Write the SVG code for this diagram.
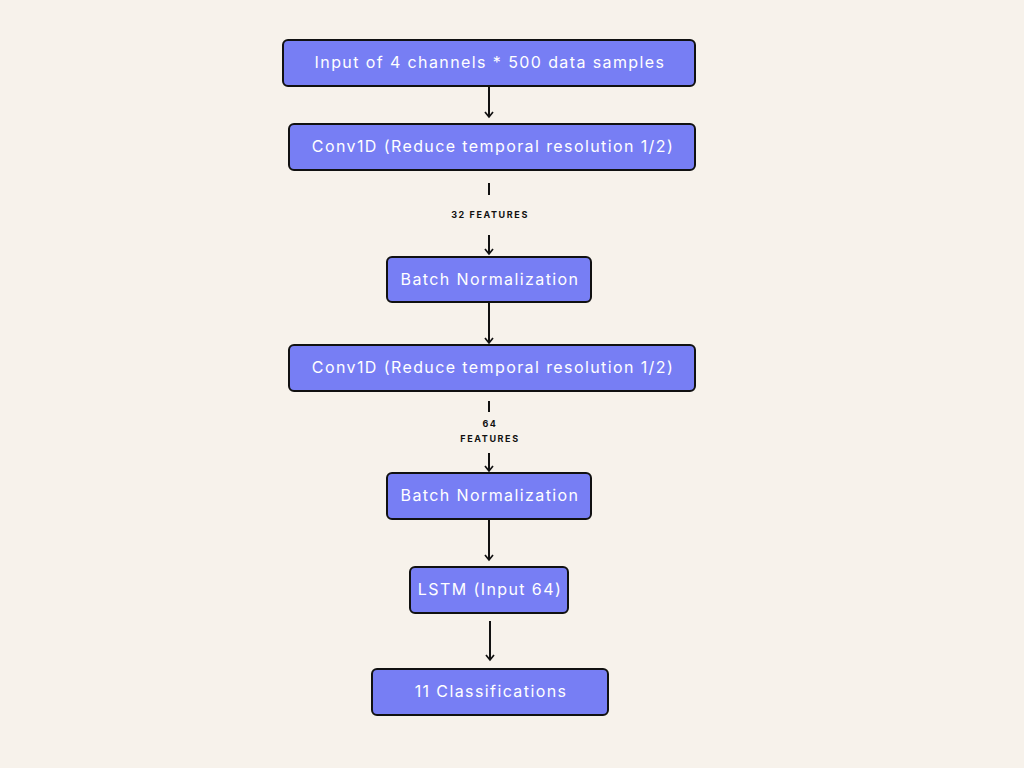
<svg xmlns="http://www.w3.org/2000/svg" width="1024" height="768" viewBox="0 0 1024 768">
  <defs>
    <style>
      .box { fill: #777ef4; stroke: #111111; stroke-width: 2; }
      .lbl { fill: #ffffff; font-family: Inter, "Open Sans", sans-serif; font-size: 16px; letter-spacing: 1.4px; text-anchor: middle; dominant-baseline: central; }
      .tag { fill: #111111; font-family: Inter, "Open Sans", sans-serif; font-size: 9px; font-weight: 700; letter-spacing: 1.6px; text-anchor: middle; dominant-baseline: central; }
      .wire { stroke: #111111; stroke-width: 2; fill: none; }
    </style>
    <!-- open chevron arrowhead, drawn along +x so orient="auto" follows the line -->
    <marker id="head" viewBox="0 0 10 10" refX="8.5" refY="5" markerWidth="10" markerHeight="10" markerUnits="userSpaceOnUse" orient="auto">
      <path d="M3.5,1 L8.5,5 L3.5,9" fill="none" stroke="#111111" stroke-width="1.7"/>
    </marker>
  </defs>

  <rect width="1024" height="768" fill="#f7f2eb"/>

  <g id="connectors">
    <line class="wire" x1="489" y1="87" x2="489" y2="117" marker-end="url(#head)"/>
    <line class="wire" x1="489" y1="183" x2="489" y2="195"/>
    <line class="wire" x1="489" y1="235" x2="489" y2="254" marker-end="url(#head)"/>
    <line class="wire" x1="489" y1="303" x2="489" y2="343" marker-end="url(#head)"/>
    <line class="wire" x1="489" y1="401" x2="489" y2="412"/>
    <line class="wire" x1="489" y1="453" x2="489" y2="471" marker-end="url(#head)"/>
    <line class="wire" x1="489" y1="520" x2="489" y2="560" marker-end="url(#head)"/>
    <line class="wire" x1="490" y1="621" x2="490" y2="660" marker-end="url(#head)"/>
    <text class="tag" x="490" y="214">32 FEATURES</text>
    <text class="tag" x="490" y="423">64</text>
    <text class="tag" x="490" y="438">FEATURES</text>
  </g>

  <g id="input">
    <rect class="box" x="283" y="40" width="412" height="46" rx="5"/>
    <text class="lbl" x="490" y="62">Input of 4 channels * 500 data samples</text>
  </g>
  <g id="conv1">
    <rect class="box" x="289" y="124" width="406" height="46" rx="5"/>
    <text class="lbl" x="493" y="146">Conv1D (Reduce temporal resolution 1/2)</text>
  </g>
  <g id="bn1">
    <rect class="box" x="387" y="257" width="204" height="45" rx="5"/>
    <text class="lbl" x="490" y="279">Batch Normalization</text>
  </g>
  <g id="conv2">
    <rect class="box" x="289" y="345" width="406" height="46" rx="5"/>
    <text class="lbl" x="493" y="367">Conv1D (Reduce temporal resolution 1/2)</text>
  </g>
  <g id="bn2">
    <rect class="box" x="387" y="473" width="204" height="46" rx="5"/>
    <text class="lbl" x="490" y="495">Batch Normalization</text>
  </g>
  <g id="lstm">
    <rect class="box" x="410" y="567" width="158" height="46" rx="5"/>
    <text class="lbl" x="490" y="589">LSTM (Input 64)</text>
  </g>
  <g id="output">
    <rect class="box" x="372" y="669" width="236" height="46" rx="5"/>
    <text class="lbl" x="491" y="691">11 Classifications</text>
  </g>
</svg>
